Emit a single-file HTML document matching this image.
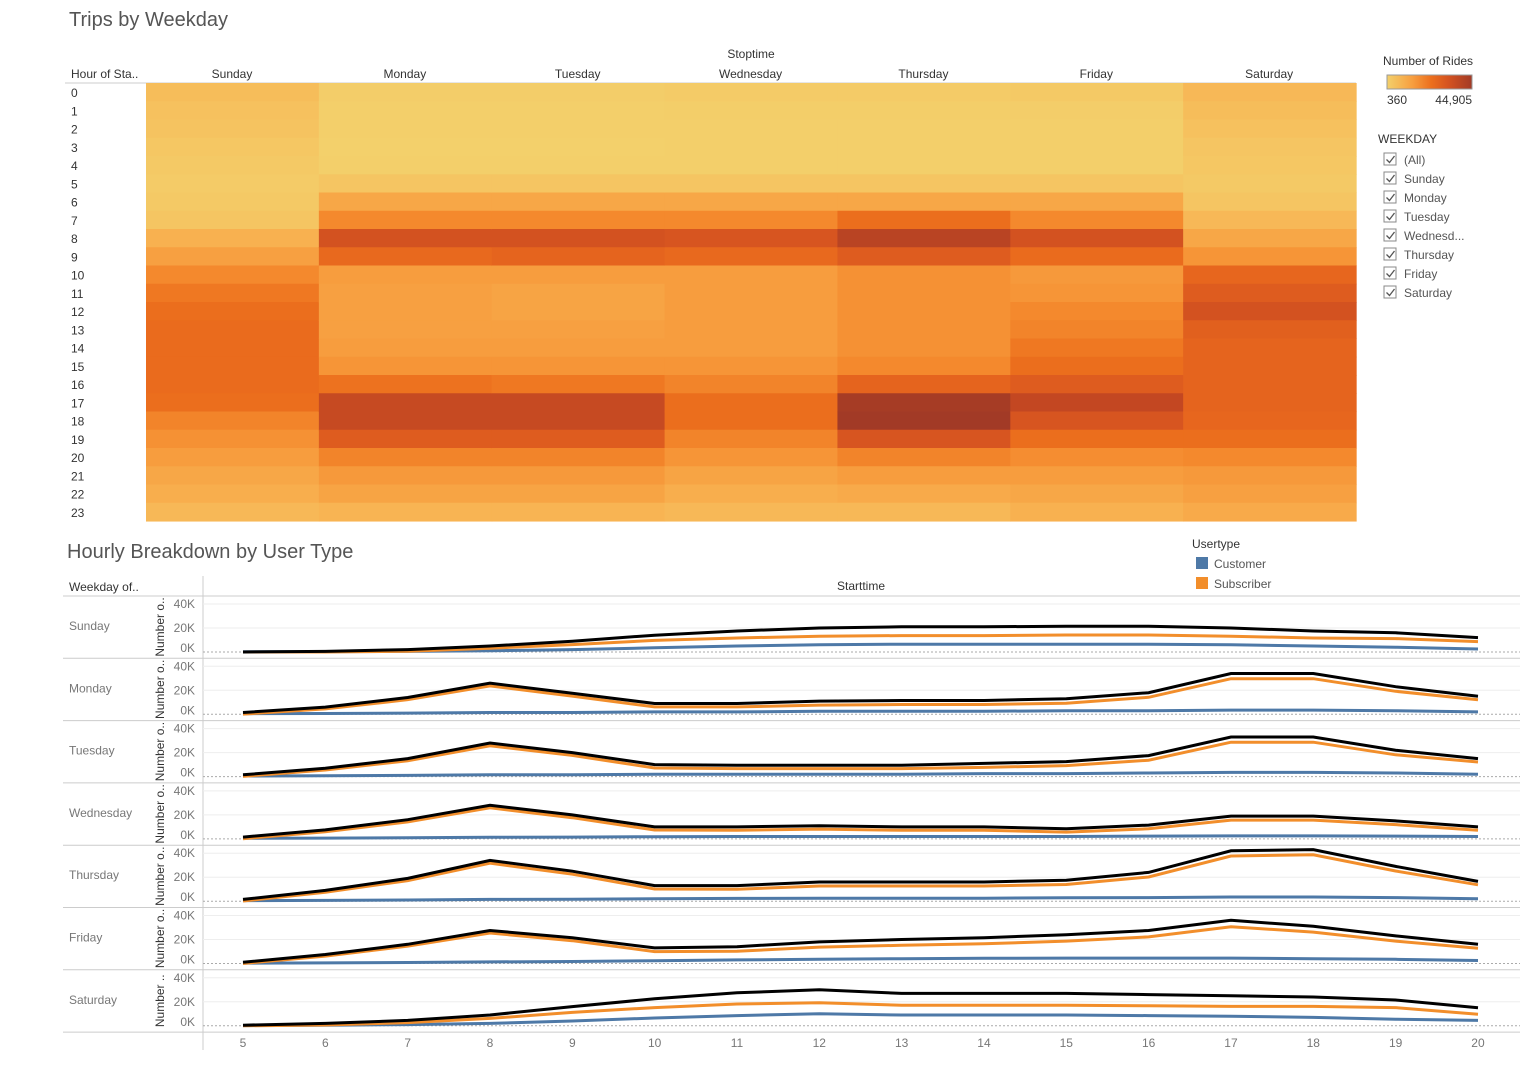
<!DOCTYPE html>
<html><head><meta charset="utf-8"><style>
body{margin:0;background:#fff;font-family:"Liberation Sans",sans-serif;}
svg text{font-family:"Liberation Sans",sans-serif;}
</style></head><body>
<svg id="s" width="1536" height="1062" viewBox="0 0 1536 1062">
<text x="69" y="26" font-size="20" fill="#555">Trips by Weekday</text>
<text x="751" y="58" font-size="12" fill="#333" text-anchor="middle">Stoptime</text>
<text x="71" y="78" font-size="12" fill="#333">Hour of Sta..</text>
<line x1="65" y1="83" x2="1356" y2="83" stroke="#ccc"/>
<g id="heat"></g>
<text x="1383" y="65" font-size="12" fill="#333">Number of Rides</text>
<defs><linearGradient id="g"><stop offset="0" stop-color="#f3d06b"/><stop offset="0.3" stop-color="#f79e3f"/><stop offset="0.52" stop-color="#ec6f1d"/><stop offset="0.72" stop-color="#d55320"/><stop offset="1" stop-color="#a23a26"/></linearGradient></defs>
<rect x="1387" y="75" width="85" height="14" fill="url(#g)" stroke="#999"/>
<text x="1387" y="104" font-size="12" fill="#333">360</text>
<text x="1472" y="104" font-size="12" fill="#333" text-anchor="end">44,905</text>
<text x="1378" y="143" font-size="12" fill="#333">WEEKDAY</text>
<g id="filt"></g>
<text x="67" y="558" font-size="20" fill="#555">Hourly Breakdown by User Type</text>
<text x="1192" y="548" font-size="12" fill="#333">Usertype</text>
<rect x="1196" y="557" width="12" height="12" fill="#4e79a7"/>
<text x="1214" y="568" font-size="12" fill="#555">Customer</text>
<rect x="1196" y="577" width="12" height="12" fill="#f28e2b"/>
<text x="1214" y="588" font-size="12" fill="#555">Subscriber</text>
<text x="69" y="591" font-size="12" fill="#333">Weekday of..</text>
<text x="861" y="590" font-size="12" fill="#333" text-anchor="middle">Starttime</text>
<line x1="203" y1="576" x2="203" y2="1050" stroke="#ccc"/>
<line x1="63" y1="596" x2="1520" y2="596" stroke="#ccc"/>
<g id="lines"></g>
</svg>
<script>
const days=["Sunday","Monday","Tuesday","Wednesday","Thursday","Friday","Saturday"];
const heatSun=[5,4,3.5,2.5,2,1.5,2,3,8,13,19,22,24,25,25,25,25,24,20,17,14,11,9,6];
const heatMon=[1,.6,.5,.4,.6,3,11,19,33,26,14,13,13,13,14,16,23,37,37,30,20,15,12,7];
const heatTue=[1,.6,.5,.4,.6,3,11,19,33,28,14,12,12,13,14,16,22,37,37,30,20,15,12,7];
const heatWed=[1.5,.8,.6,.5,.6,3,11,19,32,26,14,14,14,14,14,16,20,24,24,20,16,12,9,6];
const heatThu=[1.5,.8,.6,.5,.6,3,11,24,40,30,17,17,17,17,17,19,28,44,44.9,32,20,14,10,6];
const heatFri=[2,1,.7,.6,.6,3,11,19,33,25,15,16,19,20,22,24,30,38,32,24,18,14,11,8];
const heatSat=[6,5,4,3,2.5,2,3,6,11,16,27,30,33,29,28,28,28,28,27,24,19,15,13,10];
const hours=[5,6,7,8,9,10,11,12,13,14,15,16,17,18,19,20];
const custSun=[.2,.3,.5,1,2,3.5,5,6,6.5,6.5,6.5,6.5,6,5,4,2.5];
const totSun=[0,.5,2,5,9,14,17.5,20,21,21,21.5,21.5,20,17.5,16,12];
const custMon=[.5,.7,1,1.5,1.5,2,2,2.5,2.5,2.5,3,3,3.5,3.5,3,2];
const totMon=[1.5,6,14,26,17.5,9,9,11,11.5,11.5,13,18,34,34,23,15];
const custTue=[.5,.7,1,1.5,1.5,2,2,2,2,2.5,2.5,3,3.5,3.5,3,2];
const totTue=[1.5,7,15,28,20,10,9.5,9.5,9.5,11,12.5,17.5,33,33,22,15];
const custWed=[.5,.7,1,1.3,1.5,1.8,2,2,2,2,2,2.3,2.5,2.5,2.3,2];
const totWed=[1.5,7.5,16,28,20,10,10,11,10,10,8.5,11.5,19,19,15,10];
const custThu=[.5,.7,1,1.5,1.7,2,2.3,2.5,2.5,2.5,2.8,3,3.5,3.5,3,2];
const totThu=[1.5,9,19,34,25,13,13,16,16,16,17.5,24,42,43,29,16.5];
const custFri=[.3,.5,.8,1.3,1.7,2.3,3,3.5,4,4.3,4.5,4.5,4.5,4,3.5,2.5];
const totFri=[1,7.5,16,27.5,21.5,13,14,18,20,21.5,24,27.5,36,31,23,16];
const custSat=[.2,.5,1,2,4,6.5,8.5,10,9,9,9,8.5,8,7,5.5,4.5];
const totSat=[.5,2,4.5,9,16,22.5,27.5,30,27,27,27,26,25,24,21.5,15];
const yTicks=["40K","20K","0K"];
const heat=[heatSun,heatMon,heatTue,heatWed,heatThu,heatFri,heatSat];
const cust=[custSun,custMon,custTue,custWed,custThu,custFri,custSat];
const tot=[totSun,totMon,totTue,totWed,totThu,totFri,totSat];
const NS="http://www.w3.org/2000/svg";
function mk(t,a,p){const e=document.createElementNS(NS,t);for(const k in a)e.setAttribute(k,a[k]);p.appendChild(e);return e;}
const stops=[[0,[243,208,107]],[.15,[248,180,83]],[.3,[247,158,63]],[.42,[244,137,45]],[.52,[236,111,29]],[.62,[229,100,30]],[.72,[213,83,32]],[.85,[194,71,34]],[1,[162,58,38]]];
function col(v){let t=Math.max(0,Math.min(1,(v-0.36)/(44.905-0.36)));for(let i=1;i<stops.length;i++){if(t<=stops[i][0]){const a=stops[i-1],b=stops[i],f=(t-a[0])/(b[0]-a[0]);return "rgb("+a[1].map((c,j)=>Math.round(c+(b[1][j]-c)*f)).join(",")+")";}}return "rgb(162,58,38)";}
const hx=d=>146+d*172.86, hy=h=>83+h*18.25;
const hg=document.getElementById('heat');
days.forEach((d,i)=>{
 const t=mk('text',{x:hx(i)+86,y:78,'font-size':12,fill:'#333','text-anchor':'middle'},hg);t.textContent=d;
 
 
 heat[i].forEach((v,h)=>{const r=mk('rect',{x:hx(i),y:hy(h),width:173.5,height:18.8,fill:col(v)},hg);
 
 });
});
for(let h=0;h<24;h++){const t=mk('text',{x:71,y:hy(h)+14,'font-size':12,fill:'#333'},hg);t.textContent=h;
 
 }
const fg=document.getElementById('filt');
["(All)"].concat(["Sunday","Monday","Tuesday","Wednesd...","Thursday","Friday","Saturday"]).forEach((n,i)=>{
 const y=153+i*19;
 const b=mk('rect',{x:1384,y:y,width:12,height:12,fill:'#fff',stroke:'#888'},fg);
 
 
 mk('path',{d:`M${1386.5} ${y+6.5} l3 3 l5 -6.5`,stroke:'#555','stroke-width':1.3,fill:'none'},fg);
 const t=mk('text',{x:1404,y:y+11,'font-size':12,fill:'#555'},fg);t.textContent=n;
 
 
});
const lg=document.getElementById('lines');
const xs=h=>243+(h-5)*82.33;
for(let i=0;i<7;i++){
 const T=596+62.3*i, y0=T+56;
 const ys=v=>y0-v*1.2;
 const g=mk('g',{},lg);
 
 
 mk('line',{x1:63,x2:1520,y1:T+62.3,y2:T+62.3,stroke:'#ccc'},g);
 const lab=mk('text',{x:69,y:T+34,'font-size':12,fill:'#777'},g);lab.textContent=days[i];
 const yt=mk('text',{x:0,y:0,'font-size':12,fill:'#333','text-anchor':'middle',transform:`translate(164,${T+31}) rotate(-90)`},g);yt.textContent=i==6?"Number ..":"Number o..";
 
 
 [40,20,0].forEach((v,k)=>{
  if(v>0)mk('line',{x1:203,x2:1520,y1:ys(v),y2:ys(v),stroke:'#eee'},g);
  const t=mk('text',{x:195,y:ys(v)+4-(v==0?4:0),'font-size':12,fill:'#777','text-anchor':'end'},g);t.textContent=yTicks[k];
  
  
 });
 mk('line',{x1:203,x2:1520,y1:y0,y2:y0,stroke:'#aaa','stroke-dasharray':'2,2'},g);
 const path=a=>a.map((v,k)=>(k?'L':'M')+xs(hours[k]).toFixed(1)+' '+ys(v).toFixed(1)).join(' ');
 const sub=tot[i].map((v,k)=>Math.max(0,v-cust[i][k]-0.8));
 const c=mk('path',{d:path(cust[i]),stroke:'#4e79a7','stroke-width':3,fill:'none'},g);
 
 
 const s=mk('path',{d:path(sub),stroke:'#f28e2b','stroke-width':3,fill:'none'},g);
 
 
 const b=mk('path',{d:path(tot[i]),stroke:'#000','stroke-width':3,fill:'none'},g);
 
 
}
hours.forEach(h=>{const t=mk('text',{x:xs(h),y:1047,'font-size':12,fill:'#777','text-anchor':'middle'},lg);t.textContent=h;
 
 });
</script>
</body></html>
